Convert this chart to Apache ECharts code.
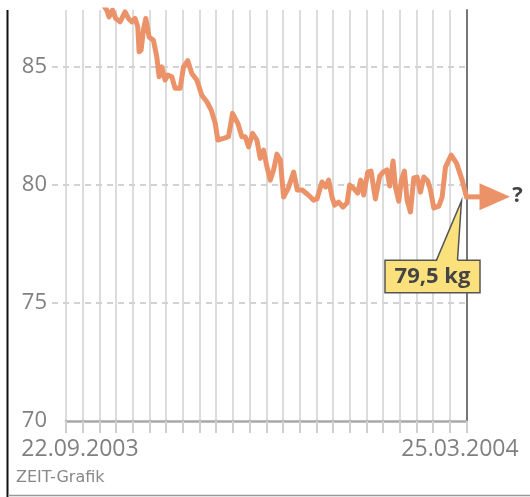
<!DOCTYPE html>
<html>
<head>
<meta charset="utf-8">
<script src="https://cdn.jsdelivr.net/npm/echarts@6/dist/echarts.min.js"></script>
<style>
  html, body { margin: 0; padding: 0; background: #fff; }
  #chart { width: 530px; height: 497px; }
</style>
</head>
<body>
<div id="chart"></div>
<script>
// weight curve, x in grid steps (24 steps from 22.09.2003 to 25.03.2004)
const weeks = [2.04, 2.44, 2.58, 2.78, 2.98, 3.24, 3.54, 3.74, 3.94, 4.14, 4.30, 4.38, 4.50, 4.64, 4.78,
  4.98, 5.24, 5.44, 5.58, 5.74, 5.94, 6.10, 6.34, 6.54, 6.84, 7.04, 7.30, 7.54, 7.84, 8.14, 8.44, 8.70,
  8.94, 9.10, 9.44, 9.74, 9.98, 10.30, 10.54, 10.74, 10.94, 11.18, 11.44, 11.64, 11.84, 12.04, 12.24,
  12.44, 12.64, 12.84, 13.04, 13.32, 13.64, 13.86, 14.16, 14.52, 14.84, 15.04, 15.34, 15.56, 15.74,
  15.94, 16.10, 16.34, 16.60, 16.84, 17.00, 17.28, 17.48, 17.66, 17.84, 18.08, 18.28, 18.54, 18.80,
  19.00, 19.23, 19.40, 19.60, 19.74, 19.94, 20.10, 20.28, 20.44, 20.64, 20.84, 21.04, 21.24, 21.44,
  21.68, 21.84, 22.04, 22.34, 22.54, 22.74, 23.08, 23.40, 23.74, 24.0];
const weights = [87.84, 87.42, 87.13, 87.42, 87.06, 86.92, 87.34, 87.06, 86.92, 87.06, 86.71, 85.65, 85.72, 86.57, 87.06,
  86.28, 86.14, 85.44, 84.59, 85.01, 84.45, 84.66, 84.59, 84.10, 84.10, 85.01, 85.27, 84.73, 84.45, 83.81, 83.53, 83.18,
  82.63, 81.91, 81.98, 82.05, 83.04, 82.61, 82.05, 82.05, 81.62, 82.19, 81.91, 81.13, 81.48, 80.78, 80.21,
  80.64, 81.31, 81.06, 79.49, 79.87, 80.55, 79.79, 79.79, 79.58, 79.36, 79.41, 80.13, 79.92, 80.21,
  79.49, 79.15, 79.28, 79.07, 79.24, 80.00, 79.83, 79.66, 80.21, 79.58, 80.55, 80.59, 79.41, 80.38,
  80.55, 80.64, 79.96, 81.02, 79.92, 79.32, 80.21, 80.59, 79.36, 78.86, 80.30, 80.34, 79.70, 80.34,
  80.17, 79.79, 79.03, 79.11, 79.49, 80.76, 81.27, 80.93, 80.21, 79.50];
const dateLabels = ['22.09.2003', '25.03.2004'];
const yTicks = [70, 75, 80, 85];
const endLabel = '79,5 kg';

const gray = '#808080';
const lineColor = '#EB9268';
const yMin = 70, yMax = 87.42;

const chart = echarts.init(document.getElementById('chart'));

const option = {
  animation: false,
  backgroundColor: '#fff',
  grid: [
    { left: 52, right: 63.5, top: 10, bottom: 76 },
    { left: 66, right: 63.5, top: 10, bottom: 76 }
  ],
  xAxis: [
    { gridIndex: 0, type: 'value', min: 0, max: 24, show: false },
    {
      gridIndex: 1, type: 'value', min: 0, max: 24, interval: 1,
      axisLine: { show: true, onZero: false, lineStyle: { color: '#a8a8a8', width: 2.5 } },
      axisTick: { show: true, length: 12, lineStyle: { color: '#cfcfcf', width: 2 } },
      splitLine: { show: true, lineStyle: { color: '#d4d4d4', width: 1.6 } },
      axisLabel: {
        show: true, interval: 0, margin: 17, color: gray,
        fontFamily: 'Open Sans', fontSize: 23,
        showMinLabel: true, showMaxLabel: true,
        formatter: function (v) {
          if (v === 0) return '{l|' + dateLabels[0] + '}';
          if (v === 24) return '{r|' + dateLabels[1] + '}';
          return '';
        },
        rich: {
          l: { fontFamily: 'Open Sans', fontSize: 23, color: gray, padding: [0, 0, 0, 28] },
          r: { fontFamily: 'Open Sans', fontSize: 23, color: gray, padding: [0, 13, 0, 0] }
        }
      }
    }
  ],
  yAxis: [
    {
      gridIndex: 0, type: 'value', min: yMin, max: yMax, interval: 5,
      axisLine: { show: false, onZero: false }, axisTick: { show: false },
      axisLabel: {
        margin: 5, color: gray, fontFamily: 'Open Sans', fontSize: 22,
        formatter: function (v) { return yTicks.indexOf(v) >= 0 ? String(v) : ''; }
      },
      splitLine: {
        show: true, showMinLine: false, showMaxLine: false,
        lineStyle: { color: '#d2d2d2', width: 2, type: [6, 5] }
      }
    },
    {
      gridIndex: 1, type: 'value', min: yMin, max: yMax, position: 'right',
      axisLine: { show: true, onZero: false, lineStyle: { color: '#777', width: 2 } },
      axisTick: { show: false }, axisLabel: { show: false }, splitLine: { show: false }
    }
  ],
  series: [
    {
      type: 'line', xAxisIndex: 1, yAxisIndex: 1,
      data: weeks.map((w, i) => [w, weights[i]]),
      showSymbol: false, symbol: 'none',
      lineStyle: { color: lineColor, width: 5, join: 'round', cap: 'round' },
      z: 3
    },
    {
      // arrow "?" and the yellow callout at the last value
      type: 'custom', xAxisIndex: 1, yAxisIndex: 1, z: 4,
      data: [[weeks[weeks.length - 1], weights[weights.length - 1]]],
      renderItem: function (params, api) {
        const p = api.coord([api.value(0), api.value(1)]);
        const x = p[0], y = p[1];
        const yellow = '#FBE17B', edge = '#555';
        return {
          type: 'group',
          children: [
            { type: 'rect', shape: { x: x, y: y - 2.5, width: 16, height: 5 }, style: { fill: lineColor } },
            { type: 'polygon', shape: { points: [[x + 13, y - 13.5], [x + 43.5, y], [x + 13, y + 13.5]] }, style: { fill: lineColor } },
            { type: 'text', style: { text: '?', x: x + 51, y: y - 1, align: 'center', verticalAlign: 'middle',
              font: 'bold 22px "Open Sans"', fill: '#444' } },
            { type: 'rect', shape: { x: x - 81.5, y: y + 63.3, width: 95, height: 32.5 },
              style: { fill: yellow, stroke: edge, lineWidth: 1.5 } },
            { type: 'polygon', shape: { points: [[x - 5, y + 4], [x - 30, y + 65], [x - 9, y + 65]] },
              style: { fill: yellow } },
            { type: 'polyline', shape: { points: [[x - 30, y + 63.3], [x - 5, y + 4], [x - 9, y + 63.3]] },
              style: { stroke: edge, lineWidth: 1.5, fill: null } },
            { type: 'text', style: { text: endLabel, x: x - 34, y: y + 80, align: 'center', verticalAlign: 'middle',
              font: 'bold 22px "Open Sans"', fill: '#444' } }
          ]
        };
      }
    }
  ],
  graphic: [
    { type: 'line', shape: { x1: 7.5, y1: 10, x2: 7.5, y2: 497 }, style: { stroke: '#111', lineWidth: 2 } },
    { type: 'line', shape: { x1: 8, y1: 495.5, x2: 530, y2: 495.5 }, style: { stroke: '#999', lineWidth: 1.5 } },
    { type: 'text', left: 16, top: 470, style: { text: 'ZEIT-Grafik', font: '16px "DejaVu Sans"', fill: '#888' } }
  ]
};

chart.setOption(option);
</script>
</body>
</html>
